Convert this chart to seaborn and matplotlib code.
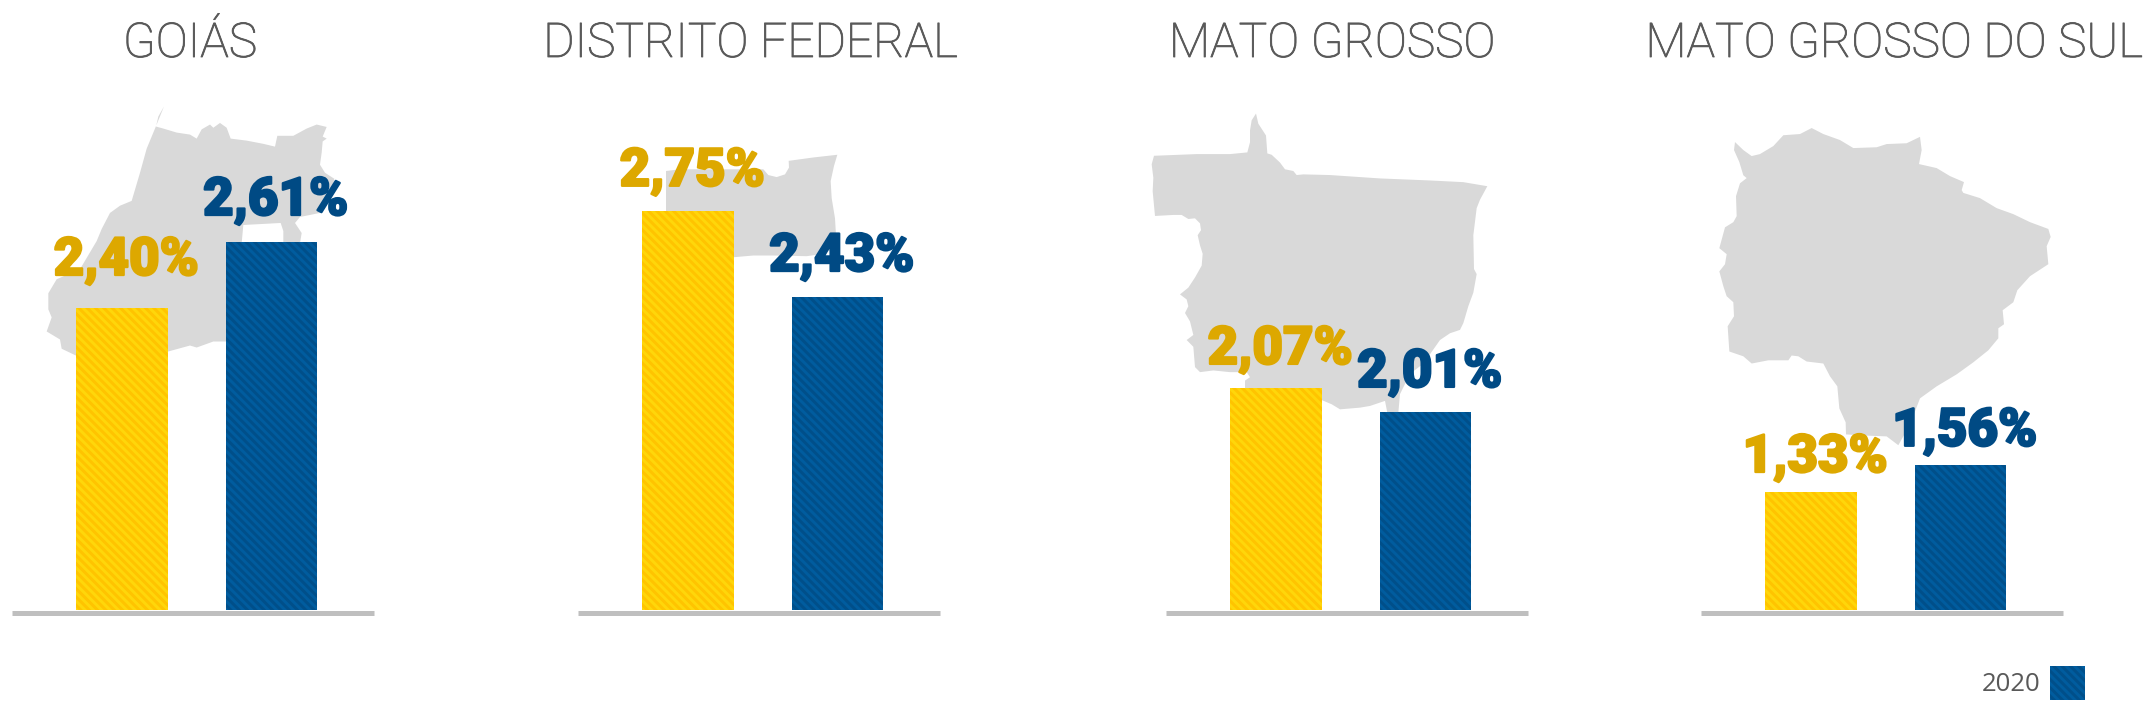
import matplotlib
matplotlib.use('Agg')
import matplotlib.pyplot as plt
import matplotlib.patheffects as pe
from matplotlib.patches import Patch
import pandas as pd
import seaborn as sns

states = ['GOIÁS', 'DISTRITO FEDERAL', 'MATO GROSSO', 'MATO GROSSO DO SUL']
series = ['Anterior', '2020']
values_prev = [2.40, 2.75, 2.07, 1.33]
values_2020 = [2.61, 2.43, 2.01, 1.56]

# each panel has its own cut axis in the source
y_limits = [(1.441, 3.189), (1.270, 3.310), (1.516, 2.890), (0.337, 4.982)]
# gap from bar top to label baseline, px
label_gaps = [(33, 27), (25, 26), (24, 25), (20, 19)]

W, H = 2146, 728
BASE_Y = 609.5
TOP_Y = 60
AX_W = 362
panel_left = [12, 578, 1166, 1701]
title_x = [190, 750, 1332, 1894]
TITLE_Y = 57
HATCH = '\\' * 4

YELLOW, YELLOW_STRIPE = '#FFC400', '#FFD60A'
BLUE, BLUE_STRIPE = '#004F8A', '#005C9E'
palette = {'Anterior': YELLOW, '2020': BLUE}
stripes = {'Anterior': YELLOW_STRIPE, '2020': BLUE_STRIPE}
label_colors = {'Anterior': '#DDA800', '2020': '#004A84'}
GREY_TEXT = '#595959'

goias_shape = (0, 0, 2.489, [
    (492, 265), (475, 290), (468, 315), (490, 320), (530, 330), (570, 335), (590, 345), (605, 322),
    (630, 310), (640, 318), (660, 306), (680, 318), (692, 345), (740, 350), (790, 358), (825, 365),
    (832, 338), (880, 338), (920, 320), (950, 310), (980, 316), (968, 340), (980, 345), (968, 352),
    (965, 380), (960, 410), (975, 430), (1003, 445), (990, 500), (960, 530), (900, 540), (885, 555),
    (905, 580), (900, 605), (850, 605), (850, 575), (842, 555), (730, 560), (725, 605), (678, 610),
    (678, 850), (640, 850), (590, 865), (570, 860), (504, 875), (228, 885), (185, 868), (180, 845),
    (140, 825), (155, 790), (145, 770), (145, 730), (170, 695), (240, 670), (290, 600), (305, 570),
    (330, 530), (360, 512), (395, 500), (420, 430), (440, 370), (465, 320)])
df_shape = (560, 100, 2.958, [
    (318, 210), (360, 205), (575, 205), (610, 205), (625, 222), (650, 228), (675, 220), (687, 200),
    (686, 180), (760, 170), (832, 162), (822, 195), (812, 240), (815, 290), (825, 350), (828, 400),
    (820, 440), (790, 455), (740, 462), (640, 460), (580, 460), (522, 465), (400, 465), (318, 465)])
mt_shape = (1130, 100, 2.958, [
    (378, 40), (365, 60), (360, 90), (360, 125), (352, 155), (300, 160), (200, 160), (72, 165),
    (65, 190), (70, 230), (68, 270), (75, 343), (130, 340), (155, 340), (175, 352), (195, 350),
    (210, 365), (213, 385), (203, 400), (210, 430), (218, 455), (215, 490), (195, 525), (175, 555),
    (150, 575), (170, 590), (175, 610), (165, 630), (180, 655), (190, 695), (170, 710), (190, 730),
    (195, 790), (210, 805), (250, 800), (300, 805), (350, 805), (360, 820), (345, 830), (345, 855),
    (576, 888), (605, 900), (630, 915), (690, 910), (720, 905), (765, 890), (772, 925), (805, 925),
    (810, 870), (840, 810), (880, 780), (930, 710), (960, 690), (990, 680), (1000, 660), (1015, 610),
    (1030, 570), (1040, 515), (1032, 500), (1030, 400), (1040, 320), (1050, 295), (1072, 255),
    (1000, 243), (900, 238), (750, 232), (600, 222), (520, 220), (500, 222), (490, 210), (465, 205),
    (450, 185), (425, 162), (412, 158), (408, 105), (385, 70)])
ms_shape = (1680, 100, 2.497, [
    (165, 105), (162, 125), (178, 155), (190, 188), (200, 195), (180, 208), (168, 240), (170, 290),
    (160, 305), (135, 318), (118, 370), (140, 385), (135, 410), (118, 428), (130, 465), (140, 490),
    (160, 505), (162, 540), (143, 565), (148, 628), (190, 640), (215, 658), (265, 650), (325, 650),
    (335, 638), (355, 640), (380, 653), (430, 658), (450, 690), (472, 715), (478, 770), (497, 805),
    (498, 835), (560, 838), (620, 840), (655, 862), (690, 810), (720, 745), (770, 715), (830, 685),
    (880, 655), (925, 625), (955, 595), (955, 570), (972, 560), (968, 525), (1000, 505), (1012, 475),
    (1050, 440), (1105, 410), (1100, 365), (1112, 342), (1105, 322), (1050, 305), (1000, 285),
    (950, 270), (900, 245), (850, 232), (845, 225), (852, 205), (810, 190), (770, 170), (717, 160),
    (725, 125), (720, 92), (680, 108), (620, 110), (590, 118), (520, 120), (480, 100), (430, 85),
    (395, 70), (360, 85), (310, 88), (280, 115), (240, 135), (215, 140), (190, 125)])
shapes = [goias_shape, df_shape, mt_shape, ms_shape]

sns.set_theme(style='white')
plt.rcParams['font.family'] = ['Roboto', 'DejaVu Sans']
plt.rcParams['hatch.linewidth'] = 2.1

fig = plt.figure(figsize=(W / 100, H / 100), dpi=100, facecolor='white')

# background layer in pixel coordinates: state shapes and titles
bg = fig.add_axes([0, 0, 1, 1], zorder=0)
bg.set_xlim(0, W)
bg.set_ylim(H, 0)
bg.axis('off')
for left, top, fy, pts in shapes:
    bg.fill([left + p[0] / 3 for p in pts], [top + p[1] / fy for p in pts], color='#D9D9D9', lw=0)
for name, x in zip(states, title_x):
    bg.text(x, TITLE_Y, name, ha='center', va='baseline', fontsize=34.5, fontweight='light', color=GREY_TEXT,
            path_effects=[pe.withStroke(linewidth=0.6, foreground=GREY_TEXT)])

for i, state in enumerate(states):
    panel = pd.DataFrame({'serie': series, 'valor': [values_prev[i], values_2020[i]]})
    ax = fig.add_axes([panel_left[i] / W, 1 - BASE_Y / H, AX_W / W, (BASE_Y - TOP_Y) / H], zorder=1)
    ax.patch.set_visible(False)
    sns.barplot(data=panel, x='serie', y='valor', hue='serie', palette=palette, order=series,
                hue_order=series, width=0.615, saturation=1, legend=False, dodge=False, ax=ax)
    ax.set_xlim(-110 / 149.5, 252 / 149.5)
    ax.set_ylim(*y_limits[i])
    ax.set_xlabel('')
    ax.set_ylabel('')
    ax.set_xticks([])
    ax.set_yticks([])
    for side in ['top', 'left', 'right']:
        ax.spines[side].set_visible(False)
    ax.spines['bottom'].set_color('#BFBFBF')
    ax.spines['bottom'].set_linewidth(3.6)
    ax.spines['bottom'].set_capstyle('butt')
    ax.spines['bottom'].set_position(('outward', 2.2))

    bars = [p for p in ax.patches if p.get_height() > 0]
    for j, bar in enumerate(bars):
        name = series[j]
        bar.set_hatch(HATCH)
        bar.set_edgecolor(stripes[name])
        bar.set_linewidth(0)
        ax.annotate(f'{panel.valor[j]:.2f}%'.replace('.', ','),
                    (bar.get_x() + bar.get_width() / 2, bar.get_height()),
                    xytext=(3, label_gaps[i][j] * 0.72), textcoords='offset points',
                    ha='center', va='baseline', fontsize=38, fontweight='black',
                    color=label_colors[name], annotation_clip=False,
                    path_effects=[pe.withStroke(linewidth=1.6, foreground=label_colors[name])])

swatch = Patch(facecolor=BLUE, edgecolor=BLUE_STRIPE, hatch=HATCH, linewidth=0, label='2020')
fig.legend(handles=[swatch], loc='center right', bbox_to_anchor=(2085 / W, 1 - 683 / H), frameon=False,
           markerfirst=False, labelcolor=GREY_TEXT, handlelength=1.38, handleheight=1.6,
           handletextpad=0.35, borderpad=0, borderaxespad=0,
           prop={'family': 'Open Sans', 'size': 18.5})

fig.savefig('out.png', dpi=100)
